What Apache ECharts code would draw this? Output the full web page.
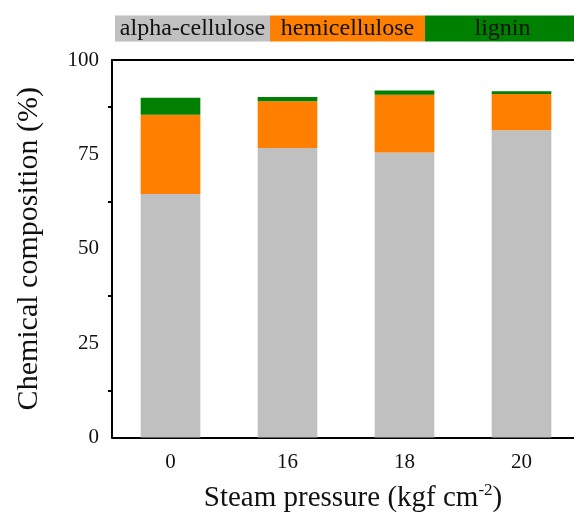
<!DOCTYPE html>
<html><head><meta charset="utf-8">
<script src="https://cdn.jsdelivr.net/npm/echarts@6/dist/echarts.min.js"></script>
<style>html,body{margin:0;padding:0;background:#fff;overflow:hidden}#c{width:574px;height:513px}</style>
</head><body><div id="c"></div>
<script>
const categories = ['0', '16', '18', '20'];
const seriesNames = ['alpha-cellulose', 'hemicellulose', 'lignin'];
const alphaCellulose = [64.5, 76.7, 75.5, 81.4];
const hemicellulose = [21.0, 12.4, 15.3, 9.6];
const lignin = [4.5, 1.1, 1.1, 0.7];
const yTicks = [0, 25, 50, 75, 100];
const colors = ['#C0C0C0', '#FF8000', '#008000'];

const font = '"Liberation Serif", "Times New Roman", serif';
const chart = echarts.init(document.getElementById('c'), null, {renderer: 'canvas'});
const values = [alphaCellulose, hemicellulose, lignin];

const gridLeft = 112, gridTop = 60, gridW = 468, gridH = 377.5;
const graphic = [];
seriesNames.forEach((n, i) => {
  const w = (gridW - 3) / seriesNames.length;
  const x0 = gridLeft + 3 + i * w;
  graphic.push({type: 'rect', x: x0, y: 15.5, shape: {width: w, height: 26}, style: {fill: colors[i]}, z: 1});
  graphic.push({type: 'text', x: x0 + w / 2, y: 29, style: {text: n, fontFamily: font, fontSize: 24, fill: '#111', align: 'center', verticalAlign: 'middle'}, z: 2});
});

const axLine = {show: true, onZero: false, lineStyle: {color: '#000', width: 2}};
chart.setOption({
  animation: false,
  graphic: graphic,
  grid: {left: gridLeft, top: gridTop, width: gridW, height: gridH, containLabel: false, outerBoundsMode: 'none'},
  xAxis: [
    {type: 'category', data: categories, position: 'bottom', axisLine: axLine,
     axisTick: {alignWithLabel: true, length: 7, lineStyle: {color: '#000', width: 2}},
     axisLabel: {fontFamily: font, fontSize: 21, color: '#111', margin: 14},
     name: '{a|Steam pressure (kgf cm}{s|-2}{a|)}', nameLocation: 'middle', nameGap: 45,
     nameTextStyle: {padding: [0, 0, 0, 14], rich: {a: {fontFamily: font, fontSize: 29, color: '#111'}, s: {fontFamily: font, fontSize: 17, color: '#111', verticalAlign: 'top', padding: [0, 0, 14, 0]}}}},
    {type: 'category', data: categories, position: 'bottom', axisLine: {show: false},
     axisTick: {length: 4, lineStyle: {color: '#000', width: 2}}, axisLabel: {show: false}},
    {type: 'category', data: categories, position: 'top', axisLine: axLine,
     axisTick: {alignWithLabel: true, inside: true, length: 8, lineStyle: {color: '#000', width: 2}}, axisLabel: {show: false}},
    {type: 'category', data: categories, position: 'top', axisLine: {show: false},
     axisTick: {inside: true, length: 4, lineStyle: {color: '#000', width: 2}}, axisLabel: {show: false}}
  ],
  yAxis: [
    {type: 'value', min: yTicks[0], max: yTicks[yTicks.length - 1], interval: 25, position: 'left', axisLine: axLine,
     axisTick: {length: 7, lineStyle: {color: '#000', width: 2}},
     minorTick: {show: true, splitNumber: 2, length: 4, lineStyle: {color: '#000', width: 2}},
     splitLine: {show: false},
     axisLabel: {fontFamily: font, fontSize: 21, color: '#111', margin: 13},
     name: 'Chemical composition (%)', nameLocation: 'middle', nameGap: 68,
     nameTextStyle: {fontFamily: font, fontSize: 30, color: '#111'}},
    {type: 'value', min: yTicks[0], max: yTicks[yTicks.length - 1], interval: 25, position: 'right', axisLine: axLine,
     axisTick: {inside: true, length: 7, lineStyle: {color: '#000', width: 2}},
     minorTick: {show: true, splitNumber: 2, length: 4, lineStyle: {color: '#000', width: 2}},
     splitLine: {show: false}, axisLabel: {show: false}}
  ],
  series: seriesNames.map((n, i) => ({
    name: n, type: 'bar', stack: 'total', data: values[i], barWidth: '51%',
    itemStyle: {color: colors[i]}, xAxisIndex: 0, yAxisIndex: 0
  }))
});
</script></body></html>
